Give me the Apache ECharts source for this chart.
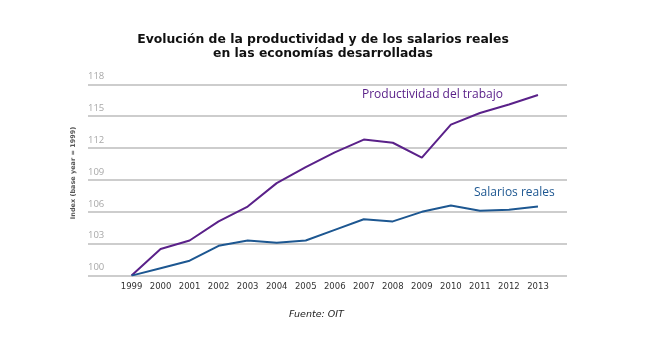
<!DOCTYPE html>
<html>
<head>
<meta charset="utf-8">
<script src="https://cdn.jsdelivr.net/npm/echarts@6/dist/echarts.min.js"></script>
<style>
  html, body { margin: 0; padding: 0; background: #fff; }
  #chart { width: 660px; height: 339px; }
</style>
</head>
<body>
<div id="chart"></div>
<script>
// Years shown on the horizontal axis
var years = [1999, 2000, 2001, 2002, 2003, 2004, 2005, 2006, 2007, 2008, 2009, 2010, 2011, 2012, 2013];
// Labour productivity index (1999 = 100)
var productividad = [100, 102.5, 103.3, 105.1, 106.5, 108.7, 110.2, 111.6, 112.8, 112.5, 111.1, 114.2, 115.3, 116.1, 117.0];
// Real wages index (1999 = 100)
var salarios = [100, 100.7, 101.4, 102.8, 103.3, 103.1, 103.3, 104.3, 105.3, 105.1, 106.0, 106.6, 106.1, 106.2, 106.5];
// Vertical axis ticks
var yTicks = [100, 103, 106, 109, 112, 115, 118];

function pairs(vals) {
  return years.map(function (y, i) { return [y, vals[i]]; });
}

var chart = echarts.init(document.getElementById('chart'), null, { renderer: 'canvas' });

chart.setOption({
  backgroundColor: '#ffffff',
  animation: false,
  title: {
    text: 'Evolución de la productividad y de los salarios reales\nen las economías desarrolladas',
    left: 318,
    top: 28,
    textAlign: 'center',
    textStyle: {
      fontFamily: 'DejaVu Sans',
      fontWeight: 'bold',
      fontSize: 12.4,
      lineHeight: 14,
      color: '#111'
    }
  },
  grid: { left: 88, right: 93, top: 84.3, bottom: 63.4 },
  xAxis: {
    type: 'value',
    min: 1997.5,
    max: 2014,
    interval: 0.5,
    axisLine: { show: false },
    axisTick: { show: false },
    splitLine: { show: false },
    axisLabel: {
      margin: 7,
      fontFamily: 'DejaVu Sans',
      fontSize: 8.5,
      color: '#333',
      formatter: function (v) {
        return (Number.isInteger(v) && years.indexOf(v) >= 0) ? String(v) : '';
      }
    }
  },
  yAxis: {
    type: 'value',
    min: yTicks[0],
    max: yTicks[yTicks.length - 1],
    interval: 3,
    name: 'Index (base year = 1999)',
    nameLocation: 'middle',
    nameGap: 8,
    nameRotate: 90,
    nameTextStyle: {
      fontFamily: 'DejaVu Sans',
      fontWeight: 'bold',
      fontSize: 6.5,
      color: '#555',
      padding: [0, 0, 0, 14]
    },
    axisLine: { show: false },
    axisTick: { show: false },
    splitLine: { lineStyle: { color: '#bdbdbd', width: 1.5 } },
    axisLabel: {
      inside: true,
      margin: 0,
      align: 'left',
      verticalAlign: 'bottom',
      padding: [0, 0, 3, 0],
      fontFamily: 'Open Sans',
      fontSize: 9.5,
      color: '#a8a8a8'
    }
  },
  series: [
    {
      name: 'Productividad del trabajo',
      type: 'line',
      data: pairs(productividad),
      showSymbol: false,
      lineStyle: { color: '#5a2189', width: 2 },
      itemStyle: { color: '#5a2189' },
      z: 3
    },
    {
      name: 'Salarios reales',
      type: 'line',
      data: pairs(salarios),
      showSymbol: false,
      lineStyle: { color: '#1d5791', width: 2 },
      itemStyle: { color: '#1d5791' },
      z: 3
    }
  ],
  graphic: [
    {
      type: 'text',
      left: 362,
      top: 89,
      style: {
        text: 'Productividad del trabajo',
        fill: '#5a2189',
        font: '12px "Open Sans"'
      }
    },
    {
      type: 'text',
      left: 474,
      top: 187,
      style: {
        text: 'Salarios reales',
        fill: '#1d5791',
        font: '12px "Open Sans"'
      }
    },
    {
      type: 'text',
      left: 289,
      top: 310,
      style: {
        text: 'Fuente: OIT',
        fill: '#222',
        font: 'italic 9.5px "DejaVu Sans"'
      }
    }
  ]
});
</script>
</body>
</html>
